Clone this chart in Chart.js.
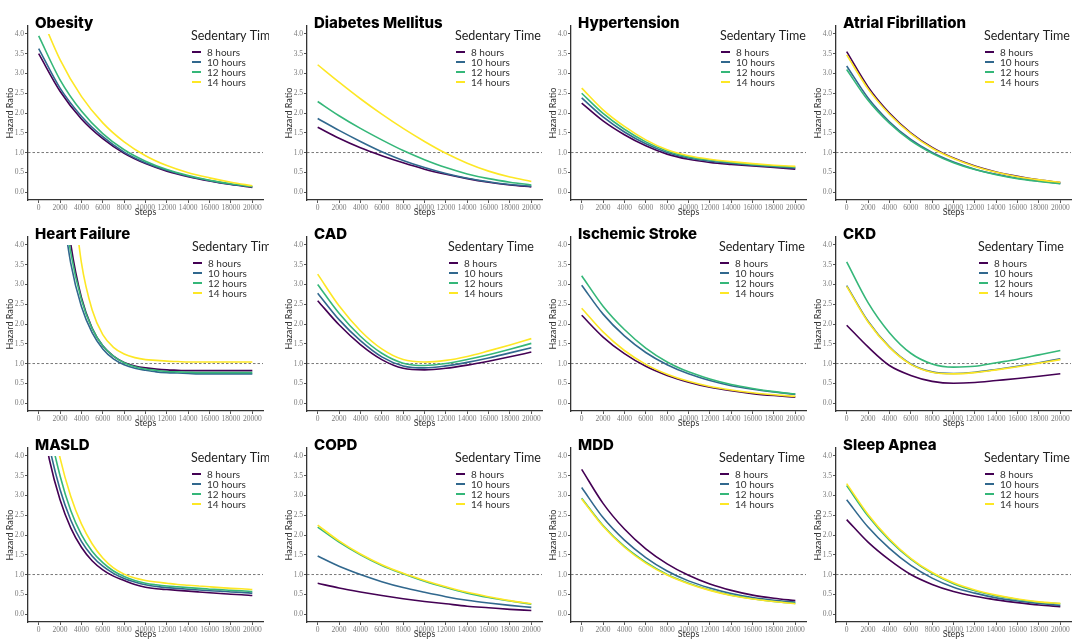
<!DOCTYPE html>
<html>
<head>
<meta charset="utf-8">
<script src="https://cdn.jsdelivr.net/npm/chart.js@4.4.1/dist/chart.umd.min.js"></script>
<style>
  html, body { margin: 0; padding: 0; background: #fff; }
  #board { position: relative; width: 1080px; height: 640px; overflow: hidden; }
  #board canvas { position: absolute; }
</style>
</head>
<body>
<div id="board"></div>
<script>
// x positions (steps) and axis ticks
const steps = [0, 2000, 4000, 6000, 8000, 10000, 12000, 14000, 16000, 18000, 20000];
const stepsFine = [0, 1000, 2000, 3000, 4000, 5000, 6000, 7000, 8000, 9000, 10000,
  11000, 12000, 13000, 14000, 15000, 16000, 17000, 18000, 19000, 20000];
const xTicks = [0, 2000, 4000, 6000, 8000, 10000, 12000, 14000, 16000, 18000, 20000];
const yTicks = [0, 0.5, 1, 1.5, 2, 2.5, 3, 3.5, 4];
const sedentary = ["8 hours", "10 hours", "12 hours", "14 hours"];
const lineColors = ["#440154", "#31688e", "#35b779", "#fde725"];

// hazard ratios, one row per sedentary time (8, 10, 12, 14 hours)
const obesity = [
  [3.50, 2.55, 1.85, 1.35, 0.98, 0.72, 0.53, 0.39, 0.28, 0.19, 0.12],
  [3.63, 2.63, 1.92, 1.40, 1.01, 0.74, 0.55, 0.40, 0.29, 0.20, 0.13],
  [3.95, 2.84, 2.05, 1.48, 1.07, 0.78, 0.57, 0.42, 0.30, 0.21, 0.14],
  [4.60, 3.35, 2.42, 1.75, 1.27, 0.92, 0.67, 0.49, 0.36, 0.25, 0.16]
];
const diabetes = [
  [1.64, 1.36, 1.12, 0.92, 0.74, 0.58, 0.45, 0.34, 0.25, 0.18, 0.13],
  [1.86, 1.56, 1.28, 1.02, 0.80, 0.62, 0.47, 0.35, 0.26, 0.19, 0.15],
  [2.29, 1.93, 1.61, 1.32, 1.05, 0.82, 0.62, 0.46, 0.34, 0.25, 0.18],
  [3.22, 2.78, 2.36, 1.97, 1.61, 1.28, 0.98, 0.73, 0.53, 0.38, 0.27]
];
const hypertension = [
  [2.25, 1.80, 1.45, 1.17, 0.96, 0.83, 0.75, 0.70, 0.66, 0.62, 0.58],
  [2.38, 1.90, 1.52, 1.22, 1.00, 0.86, 0.78, 0.73, 0.68, 0.64, 0.61],
  [2.50, 1.99, 1.59, 1.27, 1.04, 0.89, 0.81, 0.75, 0.70, 0.66, 0.63],
  [2.63, 2.08, 1.66, 1.32, 1.07, 0.92, 0.83, 0.77, 0.72, 0.68, 0.65]
];
const atrialFib = [
  [3.55, 2.66, 2.00, 1.50, 1.13, 0.86, 0.66, 0.51, 0.40, 0.31, 0.24],
  [3.19, 2.38, 1.78, 1.33, 1.00, 0.76, 0.58, 0.45, 0.35, 0.28, 0.22],
  [3.10, 2.32, 1.74, 1.30, 0.98, 0.74, 0.57, 0.44, 0.34, 0.27, 0.21],
  [3.47, 2.61, 1.97, 1.48, 1.11, 0.85, 0.65, 0.50, 0.39, 0.31, 0.25]
];
const heartFailure = [
  [null, null, 6.28, 4.03, 2.67, 1.90, 1.45, 1.19, 1.03, 0.94, 0.89, 0.86, 0.84, 0.83, 0.82, 0.82, 0.82, 0.82, 0.82, 0.82, 0.82],
  [null, null, 5.35, 3.54, 2.44, 1.78, 1.37, 1.12, 0.97, 0.88, 0.83, 0.79, 0.77, 0.76, 0.75, 0.74, 0.74, 0.74, 0.74, 0.74, 0.74],
  [null, null, 5.77, 3.81, 2.62, 1.89, 1.45, 1.19, 1.02, 0.92, 0.86, 0.83, 0.80, 0.79, 0.78, 0.77, 0.77, 0.77, 0.77, 0.77, 0.77],
  [null, null, null, 5.84, 3.55, 2.36, 1.73, 1.41, 1.24, 1.15, 1.10, 1.08, 1.06, 1.05, 1.04, 1.04, 1.04, 1.04, 1.04, 1.04, 1.04]
];
const cad = [
  [2.59, 1.98, 1.48, 1.10, 0.88, 0.84, 0.88, 0.96, 1.06, 1.17, 1.29],
  [2.78, 2.11, 1.58, 1.17, 0.94, 0.89, 0.94, 1.03, 1.14, 1.27, 1.40],
  [3.00, 2.27, 1.69, 1.26, 1.01, 0.95, 1.00, 1.10, 1.22, 1.36, 1.51],
  [3.26, 2.46, 1.83, 1.37, 1.10, 1.04, 1.08, 1.18, 1.32, 1.47, 1.63]
];
const stroke = [
  [2.22, 1.67, 1.25, 0.93, 0.70, 0.53, 0.40, 0.31, 0.24, 0.19, 0.15],
  [2.98, 2.25, 1.70, 1.28, 0.97, 0.74, 0.57, 0.44, 0.35, 0.28, 0.22],
  [3.22, 2.45, 1.86, 1.39, 1.04, 0.79, 0.61, 0.47, 0.37, 0.29, 0.23],
  [2.40, 1.80, 1.33, 0.98, 0.73, 0.55, 0.42, 0.33, 0.26, 0.21, 0.17]
];
const ckd = [
  [1.97, 1.42, 0.95, 0.70, 0.55, 0.50, 0.52, 0.57, 0.62, 0.68, 0.74],
  [2.97, 2.07, 1.42, 0.99, 0.79, 0.75, 0.78, 0.85, 0.93, 1.02, 1.12],
  [3.57, 2.54, 1.78, 1.26, 0.99, 0.91, 0.93, 1.02, 1.11, 1.22, 1.33],
  [2.95, 2.05, 1.41, 0.98, 0.78, 0.74, 0.77, 0.84, 0.92, 1.01, 1.10]
];
const masld = [
  [5.40, 3.91, 2.89, 2.18, 1.69, 1.35, 1.12, 0.96, 0.85, 0.75, 0.68, 0.64, 0.62, 0.60, 0.58, 0.56, 0.54, 0.52, 0.50, 0.49, 0.47],
  [5.90, 4.25, 3.15, 2.38, 1.84, 1.47, 1.21, 1.03, 0.90, 0.81, 0.74, 0.70, 0.67, 0.65, 0.63, 0.61, 0.59, 0.58, 0.56, 0.55, 0.53],
  [6.50, 4.70, 3.50, 2.62, 2.01, 1.59, 1.30, 1.09, 0.95, 0.85, 0.78, 0.74, 0.71, 0.69, 0.67, 0.65, 0.63, 0.62, 0.60, 0.59, 0.57],
  [7.20, 5.30, 3.95, 2.98, 2.28, 1.78, 1.42, 1.17, 1.01, 0.91, 0.85, 0.81, 0.78, 0.75, 0.73, 0.71, 0.69, 0.67, 0.65, 0.64, 0.62]
];
const copd = [
  [0.78, 0.66, 0.56, 0.47, 0.39, 0.32, 0.26, 0.20, 0.16, 0.12, 0.09],
  [1.47, 1.21, 1.00, 0.82, 0.67, 0.55, 0.44, 0.35, 0.28, 0.22, 0.17],
  [2.20, 1.82, 1.50, 1.23, 1.02, 0.83, 0.67, 0.53, 0.42, 0.33, 0.25],
  [2.25, 1.85, 1.52, 1.25, 1.03, 0.85, 0.69, 0.55, 0.44, 0.34, 0.26]
];
const mdd = [
  [3.66, 2.80, 2.15, 1.65, 1.27, 0.98, 0.76, 0.60, 0.48, 0.40, 0.34],
  [3.20, 2.44, 1.87, 1.43, 1.09, 0.84, 0.66, 0.52, 0.42, 0.35, 0.30],
  [2.93, 2.24, 1.71, 1.31, 1.00, 0.78, 0.61, 0.48, 0.39, 0.32, 0.27],
  [2.91, 2.22, 1.69, 1.29, 0.99, 0.77, 0.60, 0.47, 0.38, 0.32, 0.26]
];
const sleepApnea = [
  [2.39, 1.82, 1.37, 1.00, 0.75, 0.57, 0.45, 0.36, 0.29, 0.23, 0.19],
  [2.89, 2.20, 1.66, 1.23, 0.91, 0.68, 0.53, 0.41, 0.33, 0.27, 0.22],
  [3.25, 2.48, 1.87, 1.39, 1.03, 0.77, 0.59, 0.46, 0.37, 0.30, 0.26],
  [3.30, 2.52, 1.90, 1.41, 1.05, 0.79, 0.61, 0.48, 0.38, 0.31, 0.27]
];

const panels = [
  { title: "Obesity", x: steps, hr: obesity, legendX: 163 },
  { title: "Diabetes Mellitus", x: steps, hr: diabetes, legendX: 148 },
  { title: "Hypertension", x: steps, hr: hypertension, legendX: 149 },
  { title: "Atrial Fibrillation", x: steps, hr: atrialFib, legendX: 148 },
  { title: "Heart Failure", x: stepsFine, hr: heartFailure, legendX: 164 },
  { title: "CAD", x: steps, hr: cad, legendX: 141 },
  { title: "Ischemic Stroke", x: steps, hr: stroke, legendX: 148 },
  { title: "CKD", x: steps, hr: ckd, legendX: 142 },
  { title: "MASLD", x: stepsFine, hr: masld, legendX: 163 },
  { title: "COPD", x: steps, hr: copd, legendX: 148 },
  { title: "MDD", x: steps, hr: mdd, legendX: 148 },
  { title: "Sleep Apnea", x: steps, hr: sleepApnea, legendX: 148 }
];

// grid placement of the small multiples
const colLeft = [0, 270, 540, 810];
const axisLeft = [28, 37, 31, 26];
const rowTop = [0, 212, 424];
const areaTop = [26, 25, 24];
const areaW = 235, areaH = 174, xAxisH = 17;

const panelDecor = {
  id: "panelDecor",
  beforeDatasetsDraw(chart, args, opts) {
    const ctx = chart.ctx, a = chart.chartArea;
    const yy = chart.scales.y.getPixelForValue(1);
    ctx.save();
    ctx.strokeStyle = "#555";
    ctx.lineWidth = 0.8;
    ctx.setLineDash([2.5, 2]);
    ctx.beginPath();
    ctx.moveTo(a.left, yy);
    ctx.lineTo(a.right, yy);
    ctx.stroke();
    ctx.restore();
  },
  afterDraw(chart, args, opts) {
    const ctx = chart.ctx, a = chart.chartArea;
    ctx.save();
    ctx.textBaseline = "middle";
    ctx.fillStyle = "#000";
    ctx.font = "800 15px Inter";
    ctx.fillText(opts.title, a.left + 7, a.top - 3);

    const lx = a.left + opts.legendX;
    ctx.fillStyle = "#222";
    ctx.font = "12.5px Lato";
    ctx.fillText("Sedentary Time", lx, a.top + 10);
    sedentary.forEach(function (lab, i) {
      const ly = a.top + 26 + 10 * i;
      ctx.strokeStyle = lineColors[i];
      ctx.lineWidth = 2;
      ctx.beginPath();
      ctx.moveTo(lx + 1, ly);
      ctx.lineTo(lx + 10, ly);
      ctx.stroke();
      ctx.fillStyle = "#333";
      ctx.font = "10px Lato";
      ctx.fillText(lab, lx + 16, ly + 0.5);
    });
    ctx.restore();
  }
};

const board = document.getElementById("board");

panels.forEach(function (p, k) {
  const r = Math.floor(k / 4), c = k % 4;
  const cv = document.createElement("canvas");
  const w = axisLeft[c] + areaW + 6;
  const h = areaTop[r] + areaH + xAxisH;
  cv.width = w;
  cv.height = h;
  cv.style.left = colLeft[c] + "px";
  cv.style.top = rowTop[r] + "px";
  board.appendChild(cv);

  new Chart(cv, {
    type: "line",
    data: {
      datasets: p.hr.map(function (vals, i) {
        return {
          label: sedentary[i],
          data: p.x.map(function (s, j) { return { x: s, y: vals[j] }; }),
          borderColor: lineColors[i],
          borderWidth: 1.6,
          pointRadius: 0,
          fill: false,
          cubicInterpolationMode: "monotone",
          order: 3 - i,
          clip: { left: 0, top: -8, right: 0, bottom: 0 }
        };
      })
    },
    options: {
      responsive: false,
      animation: false,
      events: [],
      layout: { autoPadding: false, padding: { top: areaTop[r], left: 0, right: 6, bottom: 0 } },
      scales: {
        x: {
          type: "linear",
          min: -1000,
          max: 21000,
          afterBuildTicks: function (s) { s.ticks = xTicks.map(function (v) { return { value: v }; }); },
          afterFit: function (s) { s.height = xAxisH; },
          grid: { drawOnChartArea: false, drawTicks: true, tickLength: 3, color: "#555" },
          border: { color: "#333", width: 1.3 },
          ticks: { color: "#7a7a7a", padding: 1, maxRotation: 0, autoSkip: false,
            font: { family: "Liberation Serif", size: 7.5 },
            callback: function (v) { return String(v); } },
          title: { display: true, text: "Steps", color: "#333", padding: 0,
            font: { family: "Lato", size: 9 } }
        },
        y: {
          min: -0.2,
          max: 4.2,
          afterBuildTicks: function (s) { s.ticks = yTicks.map(function (v) { return { value: v }; }); },
          afterFit: function (s) { s.width = axisLeft[c]; },
          grid: { drawOnChartArea: false, drawTicks: true, tickLength: 3, color: "#555" },
          border: { color: "#333", width: 1.3 },
          ticks: { color: "#7a7a7a", padding: 1,
            font: { family: "Liberation Serif", size: 7.5 },
            callback: function (v) { return v.toFixed(1); } },
          title: { display: true, text: "Hazard Ratio", color: "#333",
            padding: { top: Math.max(0, axisLeft[c] - 23), bottom: 0 },
            font: { family: "Lato", size: 9 } }
        }
      },
      plugins: {
        legend: { display: false },
        tooltip: { enabled: false },
        panelDecor: { title: p.title, legendX: p.legendX }
      }
    },
    plugins: [panelDecor]
  });
});
</script>
</body>
</html>
